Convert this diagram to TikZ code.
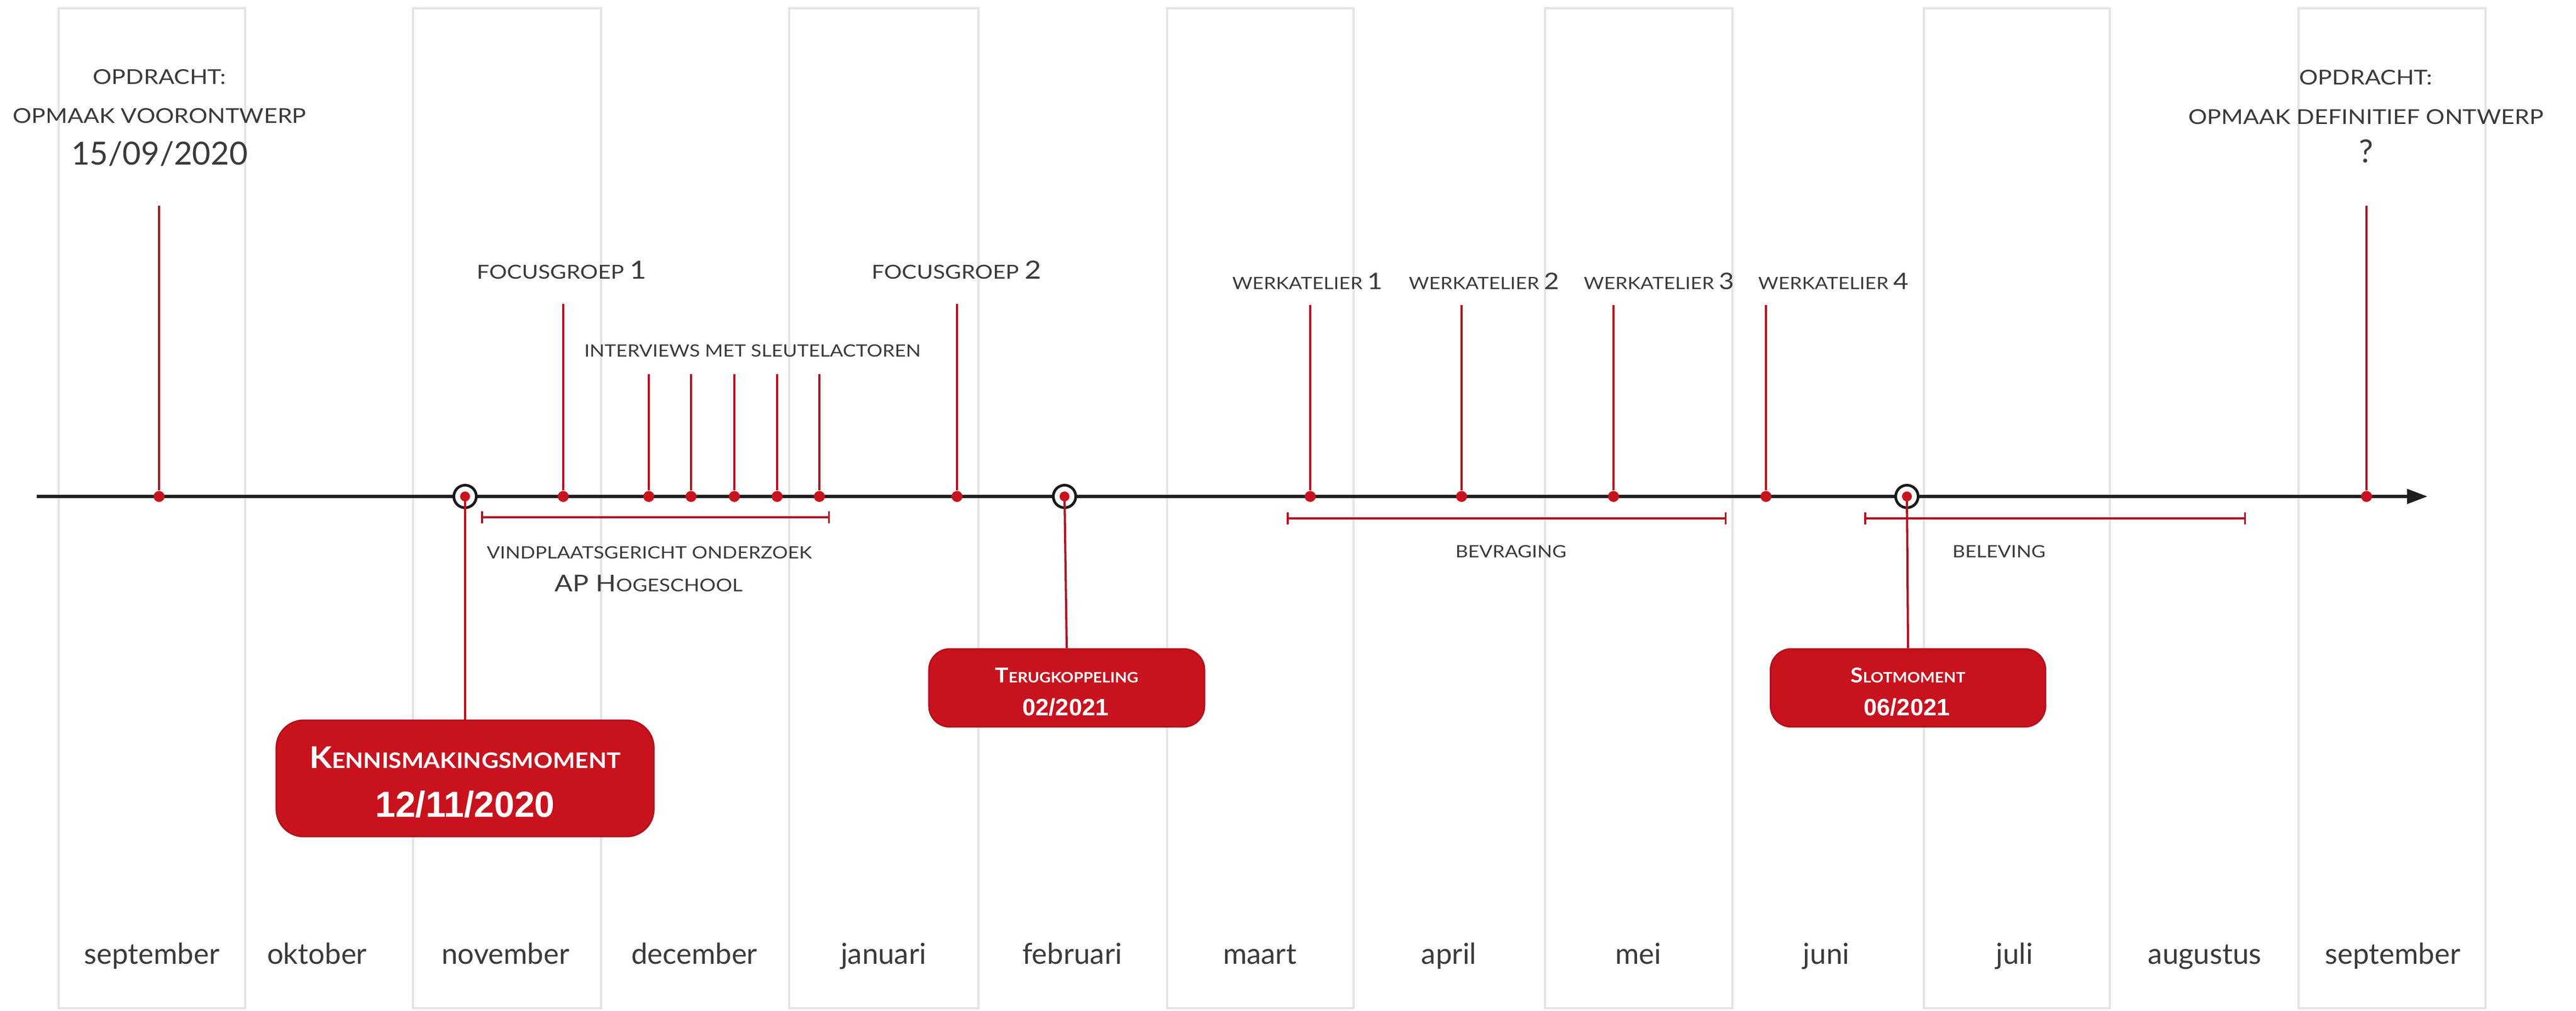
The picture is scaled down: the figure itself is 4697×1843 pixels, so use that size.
\documentclass[tikz,border=0pt]{standalone}
\usepackage{fontspec}
\setmainfont{Lato}
\newfontfamily\capf{Lato}[FakeStretch=1.15]
\newfontfamily\boxf{Lato}[FakeStretch=1.1]
\newfontfamily\datef{Liberation Sans}
\usetikzlibrary{arrows.meta}
\definecolor{lred}{RGB}{172,22,36}
\definecolor{bred}{RGB}{200,18,30}
\definecolor{bedge}{RGB}{178,16,28}
\definecolor{txt}{RGB}{58,58,58}
\definecolor{colb}{RGB}{228,228,228}
\newcommand\fs[1]{\fontsize{#1}{#1}\selectfont}
\begin{document}
\begin{tikzpicture}[x=0.01cm, y=-0.01cm,
  monthcol/.style={fill=white, draw=colb, line width=1pt},
  monthlbl/.style={anchor=base, text=txt, font=\fs{15}},
  smlbl/.style={anchor=base, text=txt, font=\capf\fs{8.8}},
  biglbl/.style={anchor=base, text=txt, font=\capf\fs{10.6}},
  rline/.style={draw=lred, line width=1.15pt},
  evdot/.style={circle, fill=bred, inner sep=0pt, minimum size=0.2cm},
  ringnode/.style={circle, draw=black!90, fill=white, line width=1.4pt, inner sep=0pt, minimum size=0.41cm},
  idot/.style={circle, fill=bred, inner sep=0pt, minimum size=0.18cm},
  spanbar/.style={draw=lred, line width=1pt, {Bar[width=6.5pt]}-{Bar[width=6.5pt]}},
  rbox/.style={rounded corners=#1, fill=bred, draw=bedge, line width=0.8pt, inner sep=0pt},
  btitle/.style={anchor=base, text=white, font=\boxf\bfseries},
  bdate/.style={anchor=base, text=white, font=\datef\bfseries},
  tline/.style={draw=black!88, line width=1.45pt, -{Triangle[length=10.5pt,width=7.5pt]}}]
\useasboundingbox (0,0) rectangle (4697,1843);
% month columns
\draw[monthcol] (107,15) rectangle (447,1838);
\draw[monthcol] (753,15) rectangle (1096,1838);
\draw[monthcol] (1439,15) rectangle (1784,1838);
\draw[monthcol] (2128,15) rectangle (2468,1838);
\draw[monthcol] (2817,15) rectangle (3159,1838);
\draw[monthcol] (3508,15) rectangle (3847,1838);
\draw[monthcol] (4191,15) rectangle (4532,1838);
% month labels
\node[monthlbl] (m1) at (277,1757) {september};
\node[monthlbl] (m2) at (578,1757) {oktober};
\node[monthlbl] (m3) at (922,1757) {november};
\node[monthlbl] (m4) at (1266,1757) {december};
\node[monthlbl] (m5) at (1611,1757) {januari};
\node[monthlbl] (m6) at (1955,1757) {februari};
\node[monthlbl] (m7) at (2297,1757) {maart};
\node[monthlbl] (m8) at (2642,1757) {april};
\node[monthlbl] (m9) at (2987,1757) {mei};
\node[monthlbl] (m10) at (3330,1757) {juni};
\node[monthlbl] (m11) at (3673,1757) {juli};
\node[monthlbl] (m12) at (4020,1757) {augustus};
\node[monthlbl] (m13) at (4363,1757) {september};
% spans
\coordinate (v0) at (877,943); \coordinate (v1) at (1513,943);
\coordinate (b0) at (2346,945); \coordinate (b1) at (3148,945);
\coordinate (l0) at (3399,945); \coordinate (l1) at (4095,945);
\draw[spanbar] (v0) -- (v1);
\draw[spanbar] (b0) -- (b1);
\draw[spanbar] (l0) -- (l1);
% axis
\coordinate (ax0) at (67,905); \coordinate (ax1) at (4426,905);
\draw[tline] (ax0) -- (ax1);
% callout boxes
\node[rbox=0.5cm, minimum width=6.88cm, minimum height=2.12cm] (kb) at (848,1419) {};
\node[rbox=0.38cm, minimum width=5.02cm, minimum height=1.42cm] (tb) at (1945,1254) {};
\node[rbox=0.38cm, minimum width=5.01cm, minimum height=1.42cm] (sb) at (3479,1254) {};
% rings
\node[ringnode] (c1) at (848,905) {};
\node[ringnode] (c2) at (1941,905) {};
\node[ringnode] (c3) at (3477,905) {};
\draw[rline] (c1.center) -- (kb.north);
\draw[rline] (c2.center) -- (tb.north);
\draw[rline] (c3.center) -- (sb.north);
\node[idot] (c1d) at (c1) {};
\node[idot] (c2d) at (c2) {};
\node[idot] (c3d) at (c3) {};
% event dots and stems
\foreach \n/\x/\t in {e1/290/375, f1/1027/554, i1/1183/682, i2/1260/682, i3/1339/682, i4/1417/682, i5/1494/682, f2/1745/554, w1/2389/556, w2/2665/556, w3/2942/556, w4/3220/556, e2/4315/375}{
  \node[evdot] (\n) at (\x,905) {};
  \coordinate (\n t) at (\x,\t);
  \draw[rline] (\n t) -- (\n);
}
% top labels
\node[biglbl] (op1a) at (291,154) {OPDRACHT:};
\node[biglbl] (op1b) at (291,225) {OPMAAK VOORONTWERP};
\node[anchor=base, text=txt, font=\fs{16.5}] (op1c) at (291,301) {15/09/2020};
\node[biglbl] (op2a) at (4314,155) {OPDRACHT:};
\node[biglbl] (op2b) at (4314,227) {OPMAAK DEFINITIEF ONTWERP};
\node[anchor=base, text=txt, font=\fs{16.5}] (op2c) at (4314,297) {?};
\node[smlbl, font=\capf\fs{10}] (fg1) at (1024,509) {FOCUSGROEP {\fs{13}1}};
\node[smlbl, font=\capf\fs{10}] (fg2) at (1744,509) {FOCUSGROEP {\fs{13}2}};
\node[smlbl] (intv) at (1372,650) {INTERVIEWS MET SLEUTELACTOREN};
\node[smlbl] (wk1) at (2384,528) {WERKATELIER {\fs{11.8}1}};
\node[smlbl] (wk2) at (2706,528) {WERKATELIER {\fs{11.8}2}};
\node[smlbl] (wk3) at (3025,528) {WERKATELIER {\fs{11.8}3}};
\node[smlbl] (wk4) at (3343,528) {WERKATELIER {\fs{11.8}4}};
% span labels
\node[smlbl] (vind) at (1184,1018) {VINDPLAATSGERICHT ONDERZOEK};
\node[smlbl, font=\capf\fs{9.2}] (aph) at (1183,1078) {{\fs{12}AP H}OGESCHOOL};
\node[smlbl] (bevr) at (2755,1016) {BEVRAGING};
\node[smlbl] (belv) at (3645,1016) {BELEVING};
% box texts
\node[btitle, font=\boxf\bfseries\fs{11.1}] (kbt) at (848,1400) {{\fs{15.5}K}ENNISMAKINGSMOMENT};
\node[bdate, font=\datef\bfseries\fs{18.8}] (kbd) at (848,1489) {12/11/2020};
\node[btitle, font=\boxf\bfseries\fs{7.4}] (tbt) at (1945,1244) {{\fs{10.6}T}ERUGKOPPELING};
\node[bdate, font=\datef\bfseries\fs{12.3}] (tbd) at (1943,1304) {02/2021};
\node[btitle, font=\boxf\bfseries\fs{7.4}] (sbt) at (3479,1244) {{\fs{10.6}S}LOTMOMENT};
\node[bdate, font=\datef\bfseries\fs{12.3}] (sbd) at (3477,1304) {06/2021};
\end{tikzpicture}
\end{document}
